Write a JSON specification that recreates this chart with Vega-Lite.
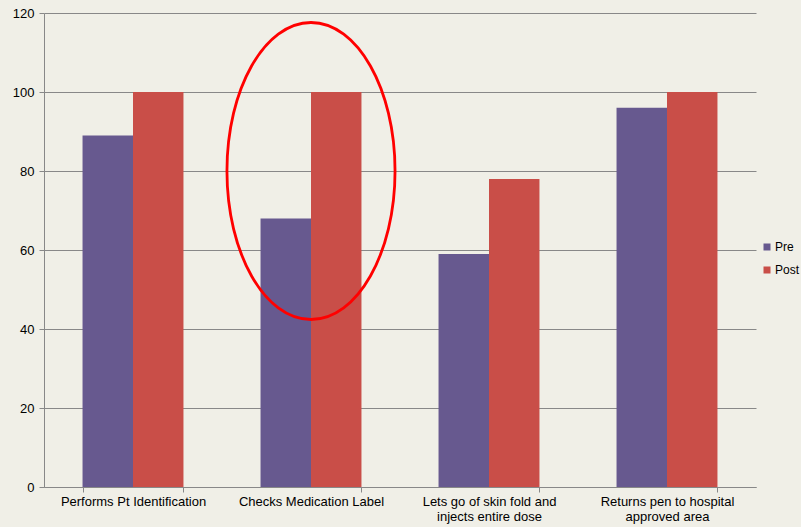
{
  "$schema": "https://vega.github.io/schema/vega-lite/v6.json",
  "width": 712,
  "height": 474,
  "autosize": {"type": "none"},
  "padding": {"left": 44, "top": 13, "right": 45, "bottom": 40},
  "background": "#f0efe7",
  "config": {
    "view": {"stroke": null},
    "font": "Liberation Sans",
    "axis": {"labelFont": "Liberation Sans", "labelFontSize": 13, "labelColor": "#000", "domainColor": "#888", "tickColor": "#888", "gridColor": "#888", "gridWidth": 1, "domainWidth": 1, "tickWidth": 1}
  },
  "datasets": {
    "bars": [
      {"category": "Performs Pt Identification", "group": "Pre", "value": 89},
      {"category": "Performs Pt Identification", "group": "Post", "value": 100},
      {"category": "Checks Medication Label", "group": "Pre", "value": 68},
      {"category": "Checks Medication Label", "group": "Post", "value": 100},
      {"category": "Lets go of skin fold and injects entire dose", "group": "Pre", "value": 59},
      {"category": "Lets go of skin fold and injects entire dose", "group": "Post", "value": 78},
      {"category": "Returns pen to hospital approved area", "group": "Pre", "value": 96},
      {"category": "Returns pen to hospital approved area", "group": "Post", "value": 100}
    ],
    "highlight": [
      {"category": "Checks Medication Label", "value": 80}
    ]
  },
  "layer": [
    {
      "data": {"name": "bars"},
      "mark": {"type": "bar"},
      "encoding": {
        "x": {
          "field": "category", "type": "nominal", "sort": null, "title": null,
          "scale": {"paddingInner": 0.433, "paddingOuter": 0.2165},
          "axis": {
            "labelAngle": 0, "tickBand": "extent", "tickSize": 5, "labelPadding": 3,
            "labelLimit": 0, "labelLineHeight": 15,
            "labelExpr": "datum.value == 'Lets go of skin fold and injects entire dose' ? ['Lets go of skin fold and', 'injects entire dose'] : datum.value == 'Returns pen to hospital approved area' ? ['Returns pen to hospital', 'approved area'] : datum.value"
          }
        },
        "xOffset": {"field": "group", "type": "nominal", "sort": ["Pre", "Post"]},
        "y": {
          "field": "value", "type": "quantitative", "title": null,
          "scale": {"domain": [0, 120], "nice": false},
          "axis": {"values": [0, 20, 40, 60, 80, 100, 120], "tickSize": 5, "labelPadding": 5, "grid": true}
        },
        "color": {
          "field": "group", "type": "nominal", "title": null,
          "scale": {"domain": ["Pre", "Post"], "range": ["#67598f", "#c94e48"]},
          "legend": {
            "orient": "none", "legendX": 717, "legendY": 228, "padding": 0,
            "symbolType": "square", "symbolSize": 49, "symbolStrokeWidth": 0,
            "labelFont": "Liberation Sans", "labelFontSize": 12, "labelColor": "#000",
            "labelOffset": 2, "rowPadding": 11
          }
        }
      }
    },
    {
      "data": {"name": "highlight"},
      "mark": {
        "type": "point",
        "shape": "M-0.566,0A0.566,1,0,1,0,0.566,0A0.566,1,0,1,0,-0.566,0Z",
        "size": 88209,
        "filled": false,
        "stroke": "#ff0000",
        "strokeWidth": 2.8,
        "opacity": 1
      },
      "encoding": {
        "x": {"field": "category", "type": "nominal", "sort": null},
        "y": {"field": "value", "type": "quantitative"}
      }
    }
  ]
}
